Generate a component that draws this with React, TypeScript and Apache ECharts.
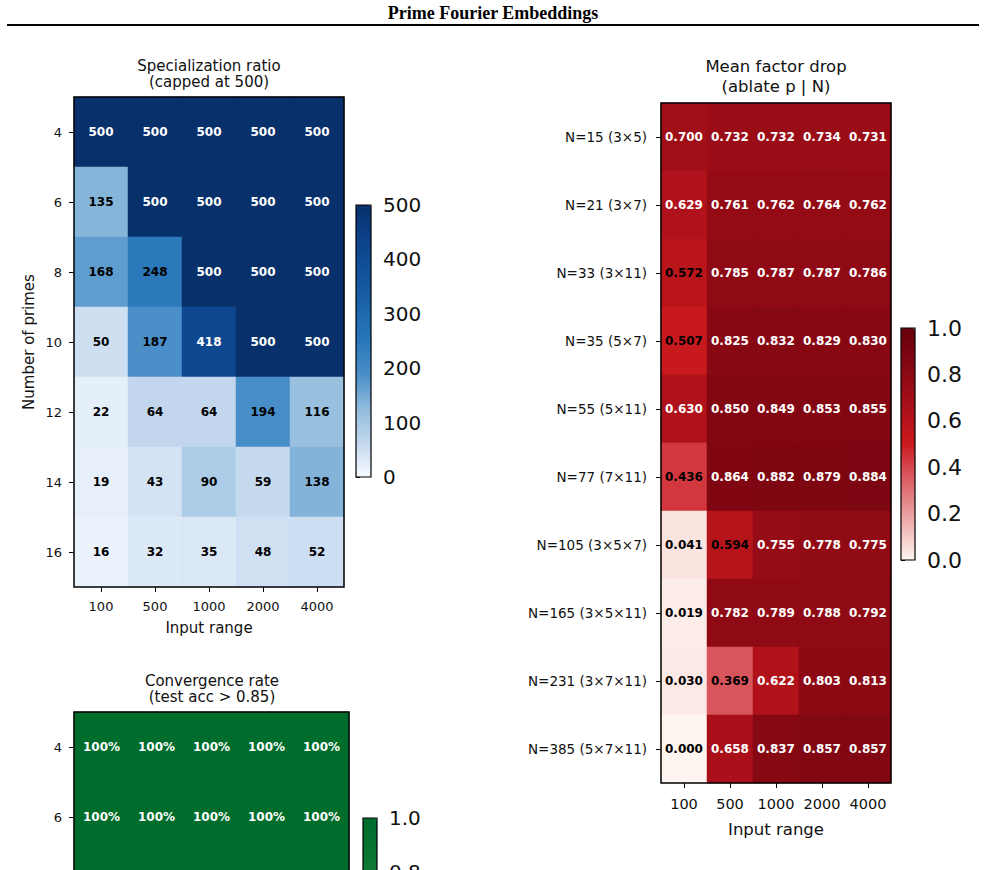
import React, { useEffect, useRef } from 'react';
import * as echarts from 'echarts';

// ---------- data ----------
const inputRanges = ['100', '500', '1000', '2000', '4000'];
const primeCounts = ['4', '6', '8', '10', '12', '14', '16'];

const specializationRatio = [
  [500, 500, 500, 500, 500],
  [135, 500, 500, 500, 500],
  [168, 248, 500, 500, 500],
  [50, 187, 418, 500, 500],
  [22, 64, 64, 194, 116],
  [19, 43, 90, 59, 138],
  [16, 32, 35, 48, 52],
];

const compositeLabels = [
  'N=15 (3×5)',
  'N=21 (3×7)',
  'N=33 (3×11)',
  'N=35 (5×7)',
  'N=55 (5×11)',
  'N=77 (7×11)',
  'N=105 (3×5×7)',
  'N=165 (3×5×11)',
  'N=231 (3×7×11)',
  'N=385 (5×7×11)',
];

const meanFactorDrop = [
  [0.700, 0.732, 0.732, 0.734, 0.731],
  [0.629, 0.761, 0.762, 0.764, 0.762],
  [0.572, 0.785, 0.787, 0.787, 0.786],
  [0.507, 0.825, 0.832, 0.829, 0.830],
  [0.630, 0.850, 0.849, 0.853, 0.855],
  [0.436, 0.864, 0.882, 0.879, 0.884],
  [0.041, 0.594, 0.755, 0.778, 0.775],
  [0.019, 0.782, 0.789, 0.788, 0.792],
  [0.030, 0.369, 0.622, 0.803, 0.813],
  [0.000, 0.658, 0.837, 0.857, 0.857],
];

// only the rows visible in the reference (4, 6 and the top of 8)
const convergenceRate = [
  [1.0, 1.0, 1.0, 1.0, 1.0],
  [1.0, 1.0, 1.0, 1.0, 1.0],
  [1.0, 1.0, 1.0, 1.0, 1.0],
];

const blueTicks = { min: 0, max: 500, interval: 100 };
const unitTicks = { min: 0, max: 1, interval: 0.2 };

// ---------- colour maps ----------
const BLUES = ['#f7fbff', '#c3d8ee', '#92bcdd', '#4a8fc8', '#2a77bb', '#1b64ab', '#11529c', '#0c428a', '#08306b'];
const REDS = ['#fff5f0', '#f2bebd', '#e5878a', '#d8525a', '#c91a1e', '#b0121a', '#960c16', '#7e0611', '#67000d'];
const GREENS = ['#f7fcf5', '#cdebc6', '#9fd89a', '#6cc072', '#3fa55d', '#23904a', '#138039', '#087432', '#006d2c'];

// ---------- layout ----------
const L = {
  blue: { left: 74, top: 97, width: 270, height: 490 },
  red: { left: 661, top: 103, width: 230, height: 680 },
  green: { left: 74, top: 712, width: 275, height: 490 },
  blueCb: { left: 356, top: 205, width: 15, height: 272 },
  redCb: { left: 901, top: 328, width: 14, height: 232 },
  greenCb: { left: 363, top: 818, width: 14, height: 272 },
};

const FONT = 'DejaVu Sans';

function cells(matrix: number[][], threshold: number) {
  const out: any[] = [];
  matrix.forEach((row, r) =>
    row.forEach((v, c) => {
      out.push({ value: [c, r, v], label: { color: v >= threshold ? '#ffffff' : '#000000' } });
    })
  );
  return out;
}

function catX(gridIndex: number, nameGap: number, tickSize: number, nameSize: number) {
  return {
    gridIndex,
    type: 'category',
    data: inputRanges,
    position: 'bottom',
    name: 'Input range',
    nameLocation: 'middle',
    nameGap,
    nameTextStyle: { fontSize: nameSize, color: '#111', fontFamily: FONT },
    axisLine: { show: false },
    axisTick: { show: true, alignWithLabel: true, interval: 0, length: 5, lineStyle: { color: '#000', width: 1 } },
    axisLabel: { interval: 0, hideOverlap: false, fontSize: tickSize, color: '#111', fontFamily: FONT, margin: 13 },
    splitLine: { show: false },
  };
}

function catY(gridIndex: number, data: string[], name: string, tickSize: number, margin: number) {
  return {
    gridIndex,
    type: 'category',
    data,
    inverse: true,
    position: 'left',
    name,
    nameLocation: 'middle',
    nameGap: 38,
    nameTextStyle: { fontSize: 15, color: '#111', fontFamily: FONT },
    axisLine: { show: false },
    axisTick: { show: true, alignWithLabel: true, interval: 0, length: 5, lineStyle: { color: '#000', width: 1 } },
    axisLabel: { interval: 0, hideOverlap: false, fontSize: tickSize, color: '#111', fontFamily: FONT, margin },
    splitLine: { show: false },
  };
}

function cbY(gridIndex: number, t: { min: number; max: number; interval: number }, decimals: number, size: number) {
  return {
    gridIndex,
    type: 'value',
    position: 'right',
    min: t.min,
    max: t.max,
    interval: t.interval,
    axisLine: { show: false },
    axisTick: { show: true, length: 4, lineStyle: { color: '#000', width: 1 } },
    axisLabel: {
      fontSize: size,
      color: '#111',
      fontFamily: FONT,
      margin: 12,
      formatter: (v: number) => v.toFixed(decimals),
    },
    splitLine: { show: false },
  };
}

function frame(g: { left: number; top: number; width: number; height: number }, lw: number) {
  return {
    type: 'rect',
    z: 100,
    silent: true,
    shape: { x: g.left, y: g.top, width: g.width, height: g.height },
    style: { fill: 'none', stroke: '#000', lineWidth: lw },
  };
}

function label(text: string, x: number, y: number, size: number, lineHeight: number) {
  return {
    type: 'text',
    z: 100,
    x,
    y,
    style: {
      text,
      fontSize: size,
      lineHeight,
      fontFamily: FONT,
      fill: '#111',
      align: 'center',
      verticalAlign: 'middle',
    },
  };
}

function vm(seriesIndex: number, t: { min: number; max: number }, g: any, colors: string[]) {
  return {
    type: 'continuous',
    seriesIndex,
    min: t.min,
    max: t.max,
    left: g.left,
    top: g.top,
    itemWidth: g.width,
    itemHeight: g.height,
    padding: 0,
    calculable: false,
    hoverLink: false,
    inRange: { color: colors },
  };
}

const heatLabel = (fmt: (v: number) => string) => ({
  show: true,
  fontSize: 12,
  fontWeight: 'bold',
  fontFamily: FONT,
  formatter: (p: any) => fmt(p.value[2]),
});

export default function App() {
  const ref = useRef<HTMLDivElement>(null);
  useEffect(() => {
    if (!ref.current) return;
    const chart = echarts.init(ref.current, undefined, { renderer: 'svg' });
    const option: any = {
      animation: false,
      backgroundColor: '#ffffff',
      grid: [L.blue, L.red, L.green, L.blueCb, L.redCb, L.greenCb].map((g) => ({
        ...g,
        containLabel: false,
        outerBoundsMode: 'none',
      })),
      xAxis: [
        catX(0, 33, 13, 15),
        catX(1, 38, 14.5, 16.5),
        catX(2, 33, 13, 15),
        { gridIndex: 3, type: 'value', show: false },
        { gridIndex: 4, type: 'value', show: false },
        { gridIndex: 5, type: 'value', show: false },
      ],
      yAxis: [
        catY(0, primeCounts, 'Number of primes', 13, 12),
        catY(1, compositeLabels, '', 13.5, 14),
        catY(2, primeCounts, '', 13, 12),
        cbY(3, blueTicks, 0, 20),
        cbY(4, unitTicks, 1, 22),
        cbY(5, unitTicks, 1, 20),
      ],
      visualMap: [
        vm(0, blueTicks, L.blueCb, BLUES),
        vm(1, unitTicks, L.redCb, REDS),
        vm(2, unitTicks, L.greenCb, GREENS),
      ],
      series: [
        {
          type: 'heatmap',
          xAxisIndex: 0,
          yAxisIndex: 0,
          data: cells(specializationRatio, 300),
          label: heatLabel((v) => String(Math.round(v))),
          itemStyle: { borderWidth: 0 },
          emphasis: { disabled: true },
        },
        {
          type: 'heatmap',
          xAxisIndex: 1,
          yAxisIndex: 1,
          data: cells(meanFactorDrop, 0.6),
          label: heatLabel((v) => v.toFixed(3)),
          itemStyle: { borderWidth: 0 },
          emphasis: { disabled: true },
        },
        {
          type: 'heatmap',
          xAxisIndex: 2,
          yAxisIndex: 2,
          data: cells(convergenceRate, 0.6),
          label: heatLabel((v) => `${Math.round(v * 100)}%`),
          itemStyle: { borderWidth: 0 },
          emphasis: { disabled: true },
        },
      ],
      graphic: [
        {
          type: 'text',
          x: 493,
          y: 13,
          style: {
            text: 'Prime Fourier Embeddings',
            fontSize: 18,
            fontWeight: 'bold',
            fontFamily: 'Liberation Serif',
            fill: '#000',
            align: 'center',
            verticalAlign: 'middle',
          },
        },
        {
          type: 'line',
          shape: { x1: 7, y1: 25, x2: 979, y2: 25 },
          style: { stroke: '#000', lineWidth: 2 },
        },
        label('Specialization ratio\n(capped at 500)', 209, 74, 15, 16.5),
        label('Mean factor drop\n(ablate p | N)', 776, 76.5, 16.5, 19.5),
        label('Convergence rate\n(test acc > 0.85)', 212, 689, 15, 16.5),
        frame(L.blue, 1.5),
        frame(L.red, 1.5),
        frame(L.green, 1.5),
        frame(L.blueCb, 1.2),
        frame(L.redCb, 1.2),
        frame(L.greenCb, 1.2),
      ],
    };
    chart.setOption(option);
    return () => chart.dispose();
  }, []);
  return <div ref={ref} style={{ position: 'fixed', left: 0, top: 0, width: 985, height: 1220 }} />;
}
